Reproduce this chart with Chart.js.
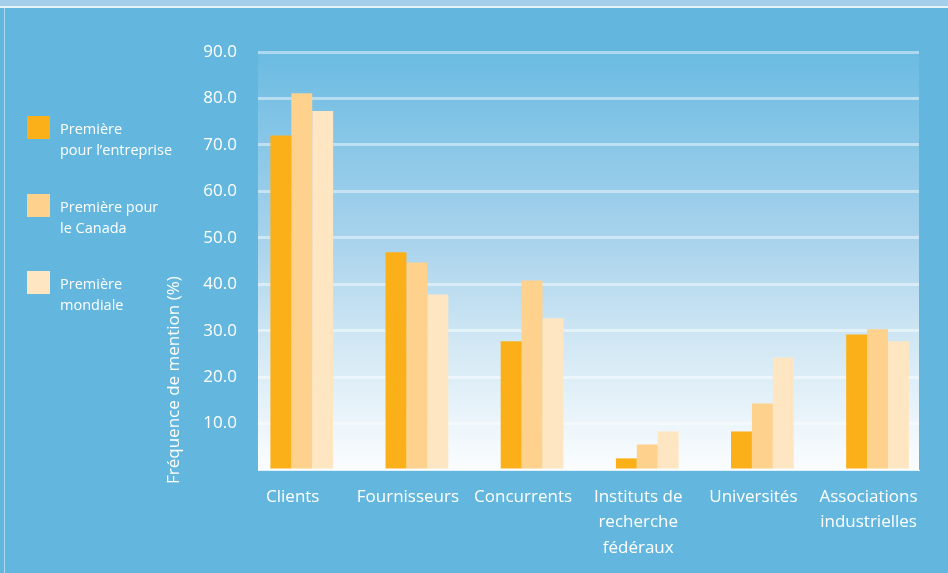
<!DOCTYPE html>
<html lang="fr">
<head>
<meta charset="utf-8">
<title>Fréquence de mention</title>
<script src="https://cdn.jsdelivr.net/npm/chart.js@4.4.1/dist/chart.umd.min.js"></script>
<style>
  html, body { margin: 0; padding: 0; background: #63b7df; }
  #wrap { width: 948px; height: 573px; position: relative; }
</style>
</head>
<body>
<div id="wrap"><canvas id="chart"></canvas></div>
<script>
// categories (multi-line labels as arrays)
const categories = [
  'Clients',
  'Fournisseurs',
  'Concurrents',
  ['Instituts de', 'recherche', 'fédéraux'],
  'Universités',
  ['Associations', 'industrielles']
];
const seriesNames = [
  ['Première', 'pour l’entreprise'],
  ['Première pour', 'le Canada'],
  ['Première', 'mondiale']
];
const premiereEntreprise = [72.0, 46.9, 27.7, 2.5, 8.3, 29.2];
const premiereCanada = [81.1, 44.7, 40.8, 5.5, 14.3, 30.3];
const premiereMondiale = [77.3, 37.8, 32.7, 8.3, 24.2, 27.7];
const yTitle = 'Fréquence de mention (%)';

const colors = ['#fbb01a', '#fed18c', '#fee6c3'];
const font = "'Open Sans', 'Noto Sans', sans-serif";

const toPoints = arr => arr.map((v, i) => ({ x: i, y: v }));

const backgroundPlugin = {
  id: 'background',
  beforeDraw(chart) {
    const ctx = chart.ctx;
    const a = chart.chartArea;
    ctx.save();
    ctx.fillStyle = '#63b7df';
    ctx.fillRect(0, 0, chart.width, chart.height);
    ctx.fillStyle = '#a3cfea';
    ctx.fillRect(0, 0, chart.width, 6);
    ctx.fillStyle = '#e6f3fa';
    ctx.fillRect(0, 6, chart.width, 2);
    ctx.fillStyle = 'rgba(255,255,255,0.45)';
    ctx.fillRect(4, 8, 1, chart.height - 8);
    // plot area gradient
    const g = ctx.createLinearGradient(0, a.top, 0, a.bottom);
    g.addColorStop(0, '#6bbbe2');
    g.addColorStop(0.45, '#a8d3ec');
    g.addColorStop(0.7, '#d2e8f4');
    g.addColorStop(1, '#fbfdff');
    ctx.fillStyle = g;
    ctx.fillRect(a.left, a.top, a.right - a.left, a.bottom - a.top);
    ctx.restore();
  }
};

const legendPlugin = {
  id: 'sideLegend',
  afterDraw(chart) {
    const ctx = chart.ctx;
    const tops = [116, 194, 271];
    ctx.save();
    ctx.font = "14.5px " + font;
    ctx.textBaseline = 'alphabetic';
    ctx.textAlign = 'left';
    chart.data.datasets.forEach((ds, i) => {
      ctx.fillStyle = ds.backgroundColor;
      ctx.fillRect(27, tops[i], 23, 23);
      ctx.fillStyle = '#ffffff';
      seriesNames[i].forEach((line, j) => {
        ctx.fillText(line, 60, tops[i] + 18 + j * 21);
      });
    });
    // y axis title
    ctx.translate(174, 484);
    ctx.rotate(-Math.PI / 2);
    ctx.font = "17px " + font;
    ctx.textBaseline = 'middle';
    ctx.fillText(yTitle, 0, 0);
    ctx.restore();
  }
};

new Chart(document.getElementById('chart'), {
  type: 'bar',
  data: {
    datasets: [
      { label: seriesNames[0].join(' '), data: toPoints(premiereEntreprise), backgroundColor: colors[0] },
      { label: seriesNames[1].join(' '), data: toPoints(premiereCanada), backgroundColor: colors[1] },
      { label: seriesNames[2].join(' '), data: toPoints(premiereMondiale), backgroundColor: colors[2] }
    ]
  },
  options: {
    responsive: true,
    maintainAspectRatio: false,
    animation: false,
    categoryPercentage: 0.545,
    barPercentage: 1.0,
    layout: { padding: { left: 0, right: 29, top: 52, bottom: 0 } },
    scales: {
      x: {
        type: 'linear',
        min: -0.38,
        max: 5.36,
        offset: false,
        grid: { display: false, drawTicks: false },
        border: { display: true, color: 'rgba(255,255,255,0.8)', width: 1 },
        afterFit: scale => { scale.height = 103; },
        ticks: {
          stepSize: 1,
          includeBounds: false,
          autoSkip: false,
          maxRotation: 0,
          labelOffset: -9,
          padding: 14,
          color: '#ffffff',
          font: { family: font, size: 17, lineHeight: 1.5 },
          callback: value => categories[value]
        }
      },
      y: {
        min: 0,
        max: 90,
        grid: {
          drawTicks: false,
          lineWidth: 3,
          color: ctx => ctx.tick && ctx.tick.value === 0 ? 'rgba(0,0,0,0)' : 'rgba(255,255,255,0.45)'
        },
        border: { display: false },
        afterFit: scale => { scale.width = 258; },
        ticks: {
          stepSize: 10,
          padding: 21,
          color: '#ffffff',
          font: { family: font, size: 17 },
          callback: value => value === 0 ? '' : value.toFixed(1)
        }
      }
    },
    plugins: {
      legend: { display: false },
      tooltip: { enabled: false }
    }
  },
  plugins: [backgroundPlugin, legendPlugin]
});
</script>
</body>
</html>
